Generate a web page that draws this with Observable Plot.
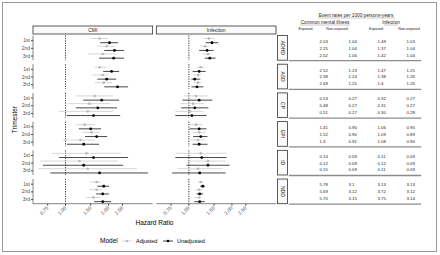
<!DOCTYPE html>
<html><head><meta charset="utf-8">
<script src="https://cdn.jsdelivr.net/npm/d3@7"></script>
<script src="https://cdn.jsdelivr.net/npm/@observablehq/plot@0.6"></script>
<style>
html,body{margin:0;padding:0;background:#fff;}
#wrap{position:relative;width:440px;height:255px;overflow:hidden;font-family:"Liberation Sans",Arial,sans-serif;}
#border{position:absolute;left:2px;top:2px;width:435px;height:250px;border:1px solid #9a9a9a;box-sizing:border-box;}
#main{position:absolute;left:0;top:0;}
#table{position:absolute;left:285px;top:0;}
</style></head><body>
<div id="wrap"><div id="border"></div><div id="main"></div><div id="table"></div></div>
<script>
// ---------- data ----------
const outcomes = ["ADHD","ASD","CP","EPI","ID","NDD"];
const trimesters = ["1st","2nd","3rd"];
const exposures = ["CMI","Infection"];
const models = ["Adjusted","Unadjusted"];
const xTicks = [0.75, 1, 1.5, 2, 2.5];
const xTickLabels = ["0.75","1.00","1.50","2.00","2.50"];
const refLine = [1];

// hazard ratios, order: outcome x trimester
const cmiAdjHR = [1.73,1.94,1.82, 1.73,1.82,1.85, 1.60,1.47,1.43, 1.36,1.52,1.27, 1.40,1.25,1.43, 1.65,1.65,1.57];
const cmiAdjLo = [1.50,1.68,1.45, 1.62,1.55,1.62, 1.19,1.05,0.91, 1.18,1.32,0.97, 0.81,0.67,0.65, 1.50,1.47,1.40];
const cmiAdjHi = [2.00,2.24,2.24, 1.94,2.00,2.13, 2.17,2.07,2.17, 1.62,1.76,1.62, 2.47,2.35,3.19, 1.79,1.82,1.76];
const cmiUnHR  = [2.03,2.20,2.17, 2.10,1.94,2.31, 1.79,1.68,1.57, 1.50,1.65,1.34, 1.57,1.34,1.73, 1.85,1.82,1.82];
const cmiUnLo  = [1.76,1.88,1.73, 1.85,1.68,1.88, 1.34,1.19,1.03, 1.25,1.38,1.03, 0.91,0.70,0.79, 1.68,1.65,1.60];
const cmiUnHi  = [2.35,2.59,2.59, 2.39,2.28,2.76, 2.39,2.31,2.43, 1.79,1.97,1.73, 2.76,2.55,3.81, 2.03,2.03,2.10];
const infAdjHR = [1.38,1.30,1.36, 1.21,1.16,1.16, 1.12,1.07,1.02, 1.12,1.18,1.16, 1.21,1.36,1.16, 1.21,1.18,1.18];
const infAdjLo = [1.27,1.21,1.25, 1.14,1.08,1.08, 0.94,0.88,0.81, 1.03,1.07,1.03, 0.82,0.98,0.84, 1.16,1.12,1.10];
const infAdjHi = [1.52,1.40,1.45, 1.30,1.23,1.23, 1.36,1.30,1.27, 1.25,1.32,1.30, 1.85,1.82,1.73, 1.27,1.25,1.23];
const infUnHR  = [1.45,1.34,1.40, 1.18,1.10,1.14, 1.18,1.10,1.05, 1.18,1.21,1.18, 1.23,1.36,1.19, 1.25,1.19,1.19];
const infUnLo  = [1.32,1.19,1.30, 1.07,1.05,1.05, 0.91,0.89,0.81, 1.02,1.08,1.07, 0.81,0.97,0.77, 1.21,1.14,1.10];
const infUnHi  = [1.62,1.50,1.55, 1.32,1.21,1.27, 1.47,1.38,1.34, 1.34,1.36,1.36, 1.85,1.94,1.82, 1.30,1.27,1.30];

// event rates table
const tableTitle = "Event rates per 1000 persons-years";
const tableGroups = ["Common mental illness","Infection"];
const tableColumns = ["Exposed","Non-exposed","Exposed","Non-exposed"];
const cmiExposed    = ["2.03","2.25","2.02","2.52","2.38","2.69","0.53","0.48","0.51","1.41","1.52","1.3","0.14","0.12","0.15","5.78","5.69","5.70"];
const cmiNonExposed = ["1.04","1.04","1.06","1.23","1.24","1.25","0.27","0.27","0.27","0.90","0.90","0.91","0.09","0.09","0.09","3.1","3.12","3.15"];
const infExposed    = ["1.49","1.37","1.42","1.47","1.38","1.4","0.32","0.31","0.30","1.06","1.09","1.08","0.11","0.12","0.11","3.13","3.72","3.75"];
const infNonExposed = ["1.03","1.04","1.04","1.25","1.26","1.26","0.27","0.27","0.28","0.90","0.89","0.90","0.09","0.09","0.09","3.13","3.12","3.14"];

// ---------- build tables ----------
const series = {
  CMI: {Adjusted: [cmiAdjHR, cmiAdjLo, cmiAdjHi], Unadjusted: [cmiUnHR, cmiUnLo, cmiUnHi]},
  Infection: {Adjusted: [infAdjHR, infAdjLo, infAdjHi], Unadjusted: [infUnHR, infUnLo, infUnHi]}
};
const rows = [];
exposures.forEach(e => models.forEach(m => outcomes.forEach((o, oi) => trimesters.forEach((t, ti) => {
  const i = oi * 3 + ti, s = series[e][m];
  rows.push({exposure: e, model: m, outcome: o, trimester: t, hr: s[0][i], lo: s[1][i], hi: s[2][i]});
}))));
const adj = rows.filter(d => d.model === "Adjusted");
const una = rows.filter(d => d.model === "Unadjusted");

const FONT = "'Liberation Sans', Arial, sans-serif";
const common = {x: "hr", y: "trimester", fx: "exposure", fy: "outcome"};
const GRAY_LINE = "#cccccc", GRAY_DOT = "#b8b8b8";

const chart = Plot.plot({
  width: 292, height: 250,
  marginTop: 35.5, marginLeft: 33, marginRight: 16, marginBottom: 46.3,
  style: {fontFamily: FONT, background: "none", color: "#4d4d4d"},
  fx: {domain: exposures, paddingInner: 0.03, paddingOuter: 0, round: false, axis: null},
  fy: {domain: outcomes, paddingInner: 0.14, paddingOuter: 0, round: false, axis: null},
  x: {type: "log", domain: [0.597, 4.1]},
  y: {type: "point", domain: trimesters, padding: 0.6, round: false},
  marks: [
    Plot.ruleX(refLine, {x: d => d, stroke: "#000", strokeWidth: 0.8, strokeDasharray: "1.2,1.2"}),
    Plot.axisY({tickSize: 2, tickPadding: 1.5, fontSize: 5, color: "#4d4d4d", label: null}),
    Plot.axisX({ticks: xTicks, tickFormat: d => xTickLabels[xTicks.indexOf(d)], tickRotate: -45,
                tickSize: 2, tickPadding: 1, fontSize: 5, color: "#4d4d4d", label: null}),
    Plot.ruleY(adj, {...common, x: undefined, x1: "lo", x2: "hi", dy: -2.1, stroke: GRAY_LINE, strokeWidth: 0.8}),
    Plot.dot(adj, {...common, dy: -2.1, r: 1.3, fill: GRAY_DOT}),
    Plot.ruleY(una, {...common, x: undefined, x1: "lo", x2: "hi", dy: 2.1, stroke: "#1a1a1a", strokeWidth: 0.8}),
    Plot.dot(una, {...common, dy: 2.1, r: 1.4, fill: "#000"})
  ]
});
document.getElementById("main").appendChild(chart);

// strips, axis lines, axis titles and legend from the computed facet scales
(function () {
  const fx = chart.scale("fx"), fy = chart.scale("fy");
  const svg = d3.select(chart);
  const g = svg.append("g").attr("font-family", FONT).attr("text-anchor", "start");
  const top = fy.apply(outcomes[0]);
  const bottom = fy.apply(outcomes[outcomes.length - 1]) + fy.bandwidth;
  const xL = fx.apply(exposures[0]);
  outcomes.forEach(o => {
    const y0 = fy.apply(o);
    g.append("line").attr("x1", xL).attr("x2", xL).attr("y1", y0).attr("y2", y0 + fy.bandwidth)
      .attr("stroke", "#333").attr("stroke-width", 0.6);
  });
  exposures.forEach(e => {
    const x0 = fx.apply(e);
    g.append("line").attr("x1", x0).attr("x2", x0 + fx.bandwidth).attr("y1", bottom).attr("y2", bottom)
      .attr("stroke", "#333").attr("stroke-width", 0.6);
    g.append("rect").attr("x", x0).attr("y", top - 9.5).attr("width", fx.bandwidth).attr("height", 8)
      .attr("fill", "#fafafa").attr("stroke", "#333").attr("stroke-width", 0.8);
    g.append("text").attr("x", x0 + fx.bandwidth / 2).attr("y", top - 5.5).attr("dy", "0.35em")
      .attr("text-anchor", "middle").attr("font-size", 5).attr("fill", "#1a1a1a").text(e);
  });
  const right = fx.apply(exposures[exposures.length - 1]) + fx.bandwidth + 1.5;
  outcomes.forEach(o => {
    const y0 = fy.apply(o);
    g.append("rect").attr("x", right).attr("y", y0).attr("width", 10).attr("height", fy.bandwidth)
      .attr("fill", "#fafafa").attr("stroke", "#333").attr("stroke-width", 0.8);
    g.append("text").attr("transform", `translate(${right + 5},${y0 + fy.bandwidth / 2}) rotate(90)`)
      .attr("dy", "0.35em").attr("text-anchor", "middle").attr("font-size", 5).attr("fill", "#1a1a1a").text(o);
  });
  const xmid = (fx.range[0] + fx.range[1]) / 2;
  const ymid = (top + bottom) / 2;
  g.append("text").attr("transform", `translate(15,${ymid}) rotate(-90)`).attr("dy", "0.35em")
    .attr("text-anchor", "middle").attr("font-size", 6.5).attr("fill", "#000").text("Trimester");
  g.append("text").attr("x", xmid).attr("y", 223).attr("dy", "0.35em")
    .attr("text-anchor", "middle").attr("font-size", 6.5).attr("fill", "#000").text("Hazard Ratio");
  // legend
  const ly = 241;
  const lg = g.append("g").attr("text-anchor", "start");
  lg.append("text").attr("x", 100).attr("y", ly).attr("dy", "0.35em").attr("font-size", 6.5).attr("fill", "#000").text("Model");
  const items = [{m: models[0], x: 122, line: GRAY_LINE, dot: GRAY_DOT}, {m: models[1], x: 163, line: "#1a1a1a", dot: "#000"}];
  items.forEach(it => {
    lg.append("line").attr("x1", it.x).attr("x2", it.x + 10).attr("y1", ly).attr("y2", ly).attr("stroke", it.line).attr("stroke-width", 0.8);
    lg.append("circle").attr("cx", it.x + 5).attr("cy", ly).attr("r", 1.3).attr("fill", it.dot);
    lg.append("text").attr("x", it.x + 14).attr("y", ly).attr("dy", "0.35em").attr("font-size", 5.5).attr("fill", "#000").text(it.m);
  });
})();

// ---------- event rate table ----------
const colKeys = ["cmiE","cmiN","infE","infN"];
const colData = [cmiExposed, cmiNonExposed, infExposed, infNonExposed];
const tRows = [];
outcomes.forEach((o, oi) => trimesters.forEach((t, ti) => colKeys.forEach((c, ci) => {
  tRows.push({outcome: o, trimester: t, col: c, text: colData[ci][oi * 3 + ti]});
})));
const tbl = Plot.plot({
  width: 150, height: 250,
  marginTop: 35.5, marginBottom: 46.3, marginLeft: 4, marginRight: 15,
  style: {fontFamily: FONT, background: "none", color: "#222"},
  fy: {domain: outcomes, paddingInner: 0.14, paddingOuter: 0, round: false, axis: null},
  x: {type: "point", domain: colKeys, range: [33, 122], padding: 0, axis: null},
  y: {type: "point", domain: trimesters, padding: 0.8, round: false, axis: null},
  marks: [
    Plot.frame({anchor: "bottom", stroke: "#8c8c8c", strokeWidth: 1.3}),
    Plot.text(tRows, {x: "col", y: "trimester", fy: "outcome", text: "text", textAnchor: "start", fontSize: 4.3, fill: "#222"})
  ]
});
document.getElementById("table").appendChild(tbl);
(function () {
  const g = d3.select(tbl).append("g").attr("font-family", FONT).attr("fill", "#222");
  g.append("text").attr("x", 71).attr("y", 15).attr("dy", "0.35em").attr("text-anchor", "middle").attr("font-size", 4.7).text(tableTitle);
  g.append("line").attr("x1", 33).attr("x2", 110).attr("y1", 18).attr("y2", 18).attr("stroke", "#777").attr("stroke-width", 0.4);
  const groups = [{t: tableGroups[0], x: 40, x1: 15, x2: 65}, {t: tableGroups[1], x: 106, x1: 99, x2: 113}];
  groups.forEach(d => {
    g.append("text").attr("x", d.x).attr("y", 22).attr("dy", "0.35em").attr("text-anchor", "middle").attr("font-size", 4.7).text(d.t);
    g.append("line").attr("x1", d.x1).attr("x2", d.x2).attr("y1", 25).attr("y2", 25).attr("stroke", "#777").attr("stroke-width", 0.4);
  });
  const hx = [20.5, 52, 91, 124];
  tableColumns.forEach((c, i) => {
    g.append("text").attr("x", hx[i]).attr("y", 28.5).attr("dy", "0.35em").attr("text-anchor", "middle").attr("font-size", 3.6).text(c);
  });
})();
</script>
</body></html>
